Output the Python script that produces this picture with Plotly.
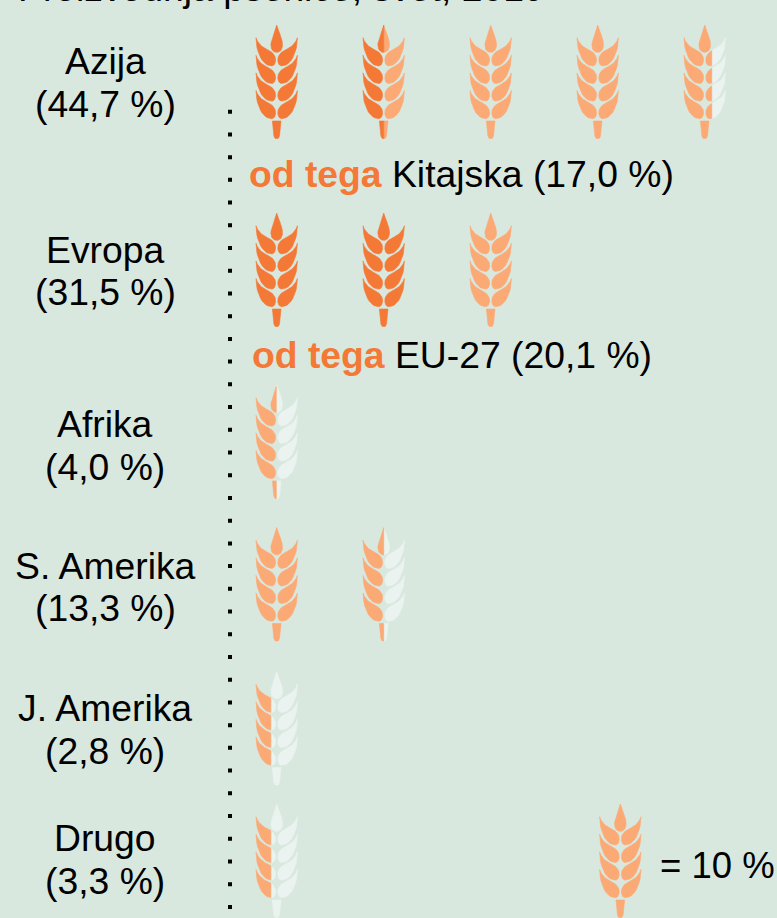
import numpy as np
import plotly.graph_objects as go

# ---- data ----
TITLE = "Proizvodnja pšenice, svet, 2019"
regions = ["Azija", "Evropa", "Afrika", "S. Amerika", "J. Amerika", "Drugo"]
share_labels = ["(44,7 %)", "(31,5 %)", "(4,0 %)", "(13,3 %)", "(2,8 %)", "(3,3 %)"]
# icons filled, as drawn in the picture
dark_icons = [1.5, 2.0, 0, 0, 0, 0]
light_icons = [4.67, 3.0, 0.49, 1.5, 0.36, 0.36]
sub_names = ["Kitajska (17,0 %)", "EU-27 (20,1 %)"]
sub_prefix = "od tega"
key_label = "= 10 %"
key_icons = 1.0

# ---- layout constants ----
W, H = 777, 918
BG, DARK, LIGHT, PALE = "#D9E8DF", "#F47836", "#FBA975", "#EAF3EF"
FONT = "Liberation Sans"
FS = 37.3
ICON_STEP = 107
ICON_X0 = 276.7
KEY_X = 620.3
row_tops = [25, 213, 385, 527.5, 671.5, 804]
KEY_TOP = 804
label_baselines = [(74, 117), (263, 305), (437, 480), (579, 621), (721, 764), (851, 894)]
sub_rows = [(249, 187), (252, 368)]
LABEL_X = 105


def bez(p0, p1, p2, p3, n=14):
    t = np.linspace(0, 1, n)[:, None]
    p0, p1, p2, p3 = map(np.array, (p0, p1, p2, p3))
    return (1-t)**3*p0 + 3*(1-t)**2*t*p1 + 3*(1-t)*t**2*p2 + t**3*p3


def glyph_parts():
    kernel_l = np.vstack([bez((0, 0), (-2, 7), (-5.8, 13), (-5.8, 20)),
                          bez((-5.8, 20), (-5.8, 25), (-3, 27.4), (0, 27.4))])
    kernel = np.vstack([kernel_l, kernel_l[::-1] * [-1, 1]])
    leaf = np.vstack([bez((-20.7, 12.7), (-20.7, 26), (-15, 40.9), (-5, 40.9)),
                      bez((-5, 40.9), (-1.5, 40.9), (-0.8, 36), (-1.2, 33.5)),
                      bez((-1.2, 33.5), (-2, 28.5), (-6, 26), (-10, 24.3)),
                      bez((-10, 24.3), (-15, 22), (-19, 18), (-20.7, 12.7))])
    parts = [kernel]
    for k in range(4):
        shifted = leaf + [0, 17.6 * k]
        parts += [shifted, shifted * [-1, 1]]
    stem = np.array([(-4.3, 96), (4.3, 96), (2.8, 111), (1.6, 113.4), (-1.6, 113.4), (-2.8, 111)], float)
    parts.append(stem)
    return parts


PARTS = glyph_parts()
XMIN, XMAX = -20.7, 20.7


def clip(poly, x, keep_left):
    out = []
    n = len(poly)
    inside = (lambda p: p[0] <= x) if keep_left else (lambda p: p[0] >= x)
    for i in range(n):
        a, b = poly[i], poly[(i + 1) % n]
        ia, ib = inside(a), inside(b)
        if ia:
            out.append(a)
        if ia != ib:
            t = (x - a[0]) / (b[0] - a[0])
            out.append(a + t * (b - a))
    return np.array(out) if out else None


def band(cx, top, f0, f1):
    xs, ys = [], []
    if f1 <= f0:
        return xs, ys
    lo = XMIN + f0 * (XMAX - XMIN)
    hi = XMIN + f1 * (XMAX - XMIN)
    for part in PARTS:
        p = part
        if f0 > 0:
            p = clip(p, lo, False)
        if p is not None and f1 < 1:
            p = clip(p, hi, True)
        if p is None or len(p) < 3:
            continue
        xs += list(p[:, 0] + cx) + [float(p[0, 0] + cx), None]
        ys += list(p[:, 1] + top) + [float(p[0, 1] + top), None]
    return xs, ys


buckets = {PALE: ([], []), LIGHT: ([], []), DARK: ([], [])}


def add_icons(x0, top, dark, light):
    for i in range(int(np.ceil(light))):
        d = float(np.clip(dark - i, 0, 1))
        l = float(np.clip(light - i, 0, 1))
        cx = x0 + i * ICON_STEP
        for colour, f0, f1 in ((DARK, 0, d), (LIGHT, d, l), (PALE, l, 1)):
            xs, ys = band(cx, top, f0, f1)
            buckets[colour][0].extend(xs)
            buckets[colour][1].extend(ys)


for top, d, l in zip(row_tops, dark_icons, light_icons):
    add_icons(ICON_X0, top, d, l)
add_icons(KEY_X, KEY_TOP, 0, key_icons)

fig = go.Figure()
for colour, (xs, ys) in buckets.items():
    fig.add_trace(go.Scatter(x=xs, y=ys, mode="lines", fill="toself", fillcolor=colour,
                             line=dict(width=0.6, color=colour), hoverinfo="skip", showlegend=False))


def text(x, baseline, s, anchor="center", size=FS, color="black"):
    fig.add_annotation(xref="paper", yref="paper", x=x / W, y=1 - (baseline - 0.34 * size) / H,
                       text=s, showarrow=False, xanchor=anchor, yanchor="middle",
                       borderpad=0, borderwidth=0,
                       font=dict(family=FONT, size=size, color=color))


text(18, 0.5, TITLE, "left")
for name, share, (b1, b2) in zip(regions, share_labels, label_baselines):
    text(LABEL_X, b1, name)
    text(LABEL_X, b2, share)
for name, (x, b) in zip(sub_names, sub_rows):
    text(x, b, f'<b><span style="color:{DARK}">{sub_prefix}</span></b> {name}', "left")
text(660, 878, key_label, "left", size=36.5)

fig.add_shape(type="line", xref="x", yref="y", x0=230, x1=230, y0=109.7, y1=918,
              line=dict(color="black", width=4, dash="4px,18.72px"))

fig.update_layout(width=W, height=H, margin=dict(l=0, r=0, t=0, b=0), autosize=False,
                  paper_bgcolor=BG, plot_bgcolor=BG, showlegend=False,
                  xaxis=dict(range=[0, W], visible=False, fixedrange=True),
                  yaxis=dict(range=[H, 0], visible=False, fixedrange=True))
fig.write_html("out.html", config=dict(displayModeBar=False),
               post_script="document.body.style.margin='0';document.documentElement.style.overflow='hidden';document.body.style.background='%s';" % BG)
